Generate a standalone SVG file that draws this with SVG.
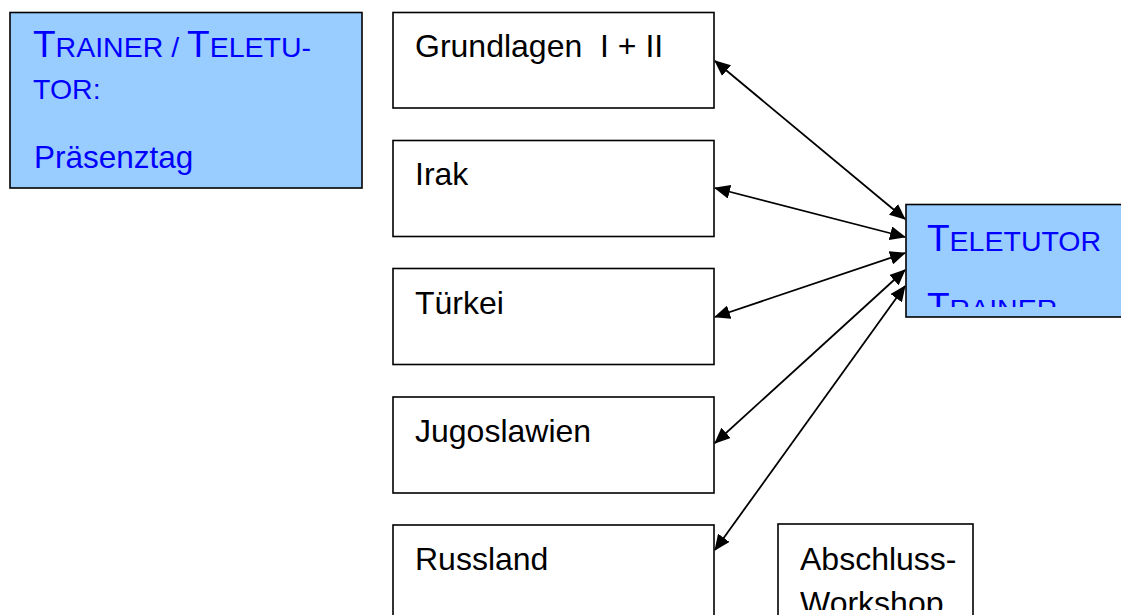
<svg xmlns="http://www.w3.org/2000/svg" width="1121" height="615" viewBox="0 0 1121 615">
<style>
.box{fill:#fff;stroke:#000;stroke-width:1.6}
.blue{fill:#99ccff;stroke:#000;stroke-width:1.6}
.t{font-family:"Liberation Sans",Arial,sans-serif;font-size:32px;fill:#000}
.bt{font-family:"Liberation Sans",Arial,sans-serif;fill:#0000ff}
.L{font-size:37px}
.S{font-size:28.5px}
.c{stroke:#000;stroke-width:1.8;fill:none;marker-start:url(#ah);marker-end:url(#ah)}
</style>
<defs>
<marker id="ah" viewBox="0 0 16 14" refX="15" refY="7" markerWidth="16" markerHeight="14" markerUnits="userSpaceOnUse" orient="auto-start-reverse">
<path d="M0,0 L16,7 L0,14 z" fill="#000"/>
</marker>
<clipPath id="cT"><rect x="906" y="204" width="220" height="103"/></clipPath>
<clipPath id="cA"><rect x="778" y="524" width="200" height="86"/></clipPath>
</defs>
<g id="trainer-praesenz">
<rect class="blue" x="10" y="12.5" width="352" height="175.5"/>
<text class="bt" x="33" y="57"><tspan class="L">T</tspan><tspan class="S">RAINER / </tspan><tspan class="L">T</tspan><tspan class="S">ELETU-</tspan></text>
<text class="bt S" x="33" y="99">TOR:</text>
<text class="bt" x="34" y="168" font-size="31.5">Präsenztag</text>
</g>
<g id="grundlagen">
<rect class="box" x="393" y="12.5" width="321" height="95.5"/>
<text class="t" x="415" y="57" xml:space="preserve">Grundlagen  I + II</text>
</g>
<g id="irak">
<rect class="box" x="393" y="140.5" width="321" height="96"/>
<text class="t" x="415" y="185">Irak</text>
</g>
<g id="tuerkei">
<rect class="box" x="393" y="268.5" width="321" height="96"/>
<text class="t" x="415" y="314">Türkei</text>
</g>
<g id="jugoslawien">
<rect class="box" x="393" y="397" width="321" height="96"/>
<text class="t" x="415" y="442">Jugoslawien</text>
</g>
<g id="russland">
<rect class="box" x="393" y="525" width="321" height="100"/>
<text class="t" x="415" y="570">Russland</text>
</g>
<g id="abschluss">
<rect class="box" x="778" y="524" width="195" height="100"/>
<g clip-path="url(#cA)">
<text class="t" x="800" y="570">Abschluss-</text>
<text class="t" x="800" y="614">Workshop</text>
</g>
</g>
<g id="teletutor">
<rect class="blue" x="906" y="204.5" width="230" height="112.5"/>
<g clip-path="url(#cT)">
<text class="bt" x="927" y="251"><tspan class="L">T</tspan><tspan class="S">ELETUTOR</tspan></text>
<text class="bt" x="927" y="319"><tspan class="L">T</tspan><tspan class="S">RAINER</tspan></text>
</g>
</g>
<g id="connectors">
<line class="c" x1="715" y1="61" x2="905" y2="219"/>
<line class="c" x1="715" y1="188" x2="905" y2="237"/>
<line class="c" x1="715" y1="317" x2="905" y2="253"/>
<line class="c" x1="715" y1="443" x2="905" y2="270"/>
<line class="c" x1="715" y1="550" x2="905" y2="286"/>
</g>
</svg>
